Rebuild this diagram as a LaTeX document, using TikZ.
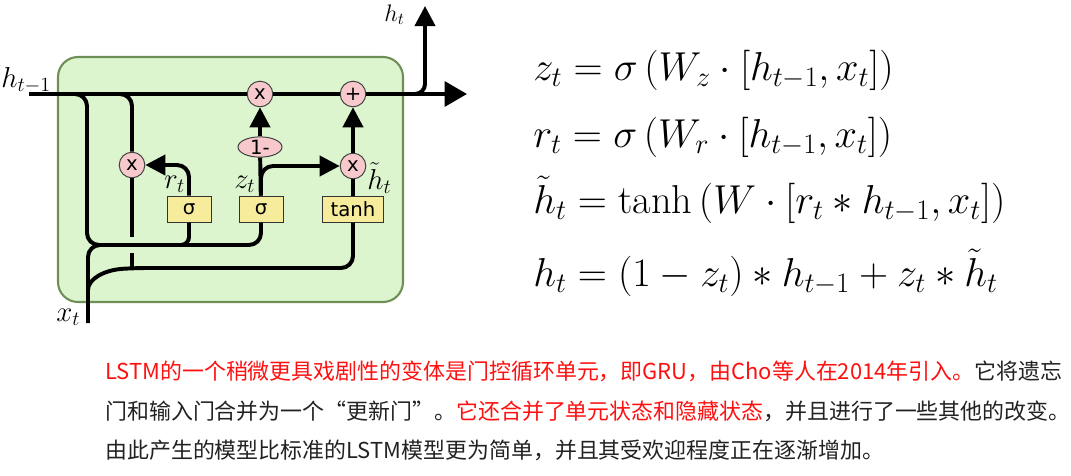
\RequirePackage{fix-cm}
\documentclass[tikz,border=0pt]{standalone}
\usepackage{fontspec}
\newfontfamily\cjkfont{Noto Sans CJK SC}
\newfontfamily\gatefont{DejaVu Sans}
\usetikzlibrary{arrows.meta, shapes.geometric}
\definecolor{gruGreen}{HTML}{DDF5CF}
\definecolor{gruEdge}{HTML}{6E8F55}
\definecolor{gruPink}{HTML}{F7C9CD}
\definecolor{gruYellow}{HTML}{F6EC9C}
\definecolor{gruRed}{HTML}{FF1010}
\definecolor{gruText}{HTML}{222222}

\begin{document}
\begin{tikzpicture}[
		x=0.025cm, y=-0.025cm,
		wire/.style={line width=2.8pt, black, rounded corners=0.3cm},
		arrow/.style={wire, -{Triangle[length=0.5cm, width=0.5cm]}},
		bigarrow/.style={wire, -{Triangle[length=0.56cm, width=0.62cm]}},
		gatebox/.style={draw=black!80, line width=0.7pt, fill=gruYellow, minimum width=1.1cm, minimum height=0.65cm, inner sep=1pt, font=\gatefont\fontsize{14}{14}\selectfont},
		op/.style={circle, draw=black!75, line width=0.7pt, fill=gruPink, minimum size=0.64cm, inner sep=0pt, font=\gatefont\fontsize{14}{14}\selectfont},
		lbl/.style={anchor=base west, inner sep=0pt, font=\fontsize{20.5}{24}\selectfont},
		eq/.style={anchor=base west, inner sep=0pt, font=\fontsize{28.7}{34}\selectfont},
		note/.style={anchor=base west, inner sep=0pt, text=gruText, font=\cjkfont\fontsize{15.6}{18}\selectfont}
	]
		\useasboundingbox (0,0) rectangle (1071,475);

		% the cell
		\filldraw[fill=gruGreen, draw=gruEdge, line width=1.5pt, rounded corners=0.5cm] (58,57) rectangle (403,302);

		\node[op] (mulz) at (260,94) {x};
		\node[op] (add) at (353,94) {+};
		\node[op] (mulr) at (132,165) {x};
		\node[op] (mulh) at (353,166) {x};
		\node[ellipse, draw=black!75, line width=0.7pt, fill=gruPink, minimum width=1.1cm, minimum height=0.47cm, inner sep=0pt, font=\gatefont\fontsize{14}{14}\selectfont] (oneminus) at (260,147) {1-};
		\node[gatebox] (sigr) at (189,209) {σ};
		\node[gatebox] (sigz) at (261,209) {σ};
		\node[gatebox, minimum width=1.525cm] (tanhbox) at (353,209) {tanh};

		\coordinate (hin) at (29,94);
		\coordinate (hout) at (467,94);
		\coordinate (htop) at (425,6);
		\coordinate (xin) at (88,323);
		\coordinate (xsplit) at (88,290);
		\coordinate (tapA) at (70,94);
		\coordinate (tapB) at (114,94);
		\coordinate (rcut) at (132,237);
		\coordinate (rjoin) at (132,253);

		% state line
		\draw[bigarrow] (hin) -- (mulz) -- (add) -- (hout);
		\draw[arrow, rounded corners=0.25cm] (add) -| (htop);

		% inputs to the gates
		\draw[wire] (tapA) -| (87,245) -| (sigz.south);
		\draw[wire] (xin) |- (120,245);
		\draw[wire, rounded corners=0.2cm] (sigr.south) |- (170,245);
		\draw[wire] (tapB) -| (mulr.north);
		\draw[wire] (mulr.south) -- (rcut);
		\draw[wire] (rjoin) -- (132,268);
		\draw[wire] (xsplit) .. controls (88,279) and (104,270) .. (135,268) -| (tanhbox.south);

		% gates
		\draw[arrow] (sigr.north) |- (mulr.east);
		\draw[wire] (sigz) -- (oneminus);
		\draw[arrow] (oneminus) -- (mulz);
		\draw[arrow] (sigz.north) |- (mulh.west);
		\draw[wire] (tanhbox) -- (mulh);
		\draw[arrow] (mulh) -- (add);

		\node[lbl] (hprev) at (1,87) {$h_{t-1}$};
		\node[lbl, font=\fontsize{17}{20}\selectfont] (hnext) at (384,21) {$h_t$};
		\node[lbl] (xlab) at (56,321) {$x_t$};
		\node[lbl] (rlab) at (164,188) {$r_t$};
		\node[lbl] (zlab) at (234,188) {$z_t$};
		\node[lbl] (hlab) at (367,189) {$\tilde{h}_t$};

		\node[eq] (eqz) at (533,80) {$z_t = \sigma\left(W_z\cdot[h_{t-1},x_t]\right)$};
		\node[eq] (eqr) at (533,147) {$r_t = \sigma\left(W_r\cdot[h_{t-1},x_t]\right)$};
		\node[eq] (eqh) at (533,213) {$\tilde{h}_t = \tanh\left(W\cdot[r_t * h_{t-1},x_t]\right)$};
		\node[eq] (eqo) at (533,286) {$h_t = (1-z_t) * h_{t-1} + z_t * \tilde{h}_t$};

		\node[note] (noteA) at (105,379) {\textcolor{gruRed}{LSTM的一个稍微更具戏剧性的变体是门控循环单元，即GRU，由Cho等人在2014年引入。}它将遗忘};
		\node[note] (noteB) at (105,419) {门和输入门合并为一个“更新门”。\textcolor{gruRed}{它还合并了单元状态和隐藏状态}，并且进行了一些其他的改变。};
		\node[note] (noteC) at (105,458) {由此产生的模型比标准的LSTM模型更为简单，并且其受欢迎程度正在逐渐增加。};
	\end{tikzpicture}
\end{document}
